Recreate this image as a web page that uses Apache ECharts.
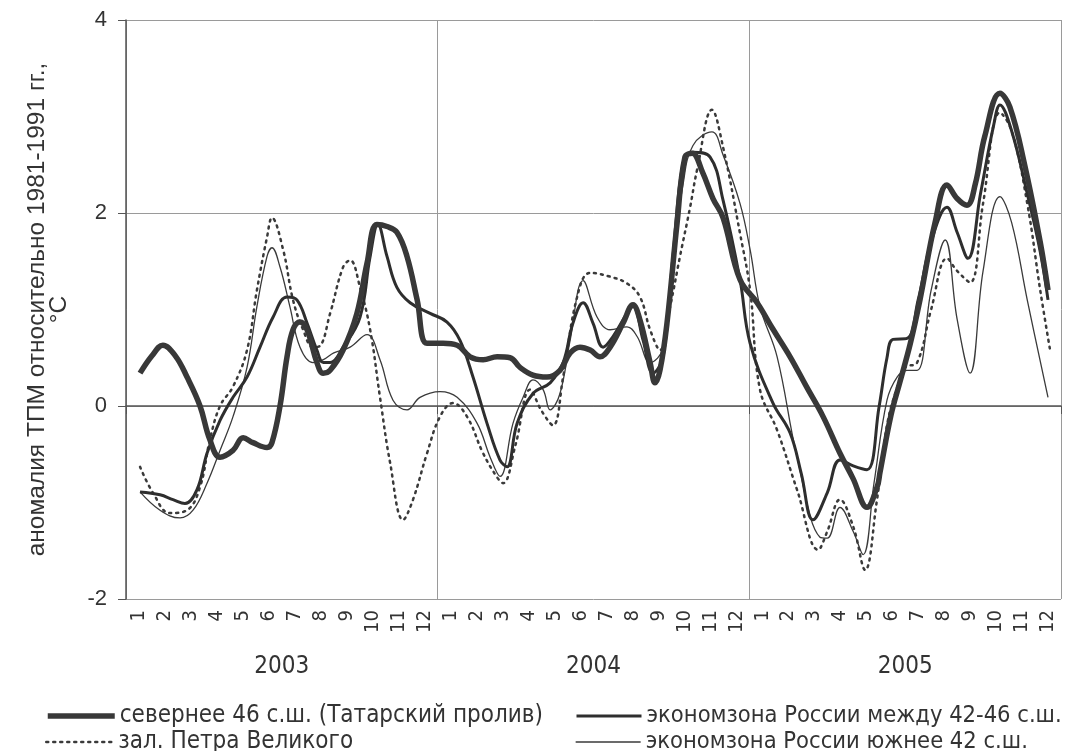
<!DOCTYPE html>
<html>
<head>
<meta charset="utf-8">
<script src="https://cdn.jsdelivr.net/npm/echarts@6/dist/echarts.min.js"></script>
<style>
  html, body { margin: 0; padding: 0; background: #ffffff; }
  #chart { width: 1068px; height: 751px; }
</style>
</head>
<body>
<div id="chart"></div>
<script>
// Month tick labels, three years of monthly categories
const monthLabels = ['1','2','3','4','5','6','7','8','9','10','11','12',
                     '1','2','3','4','5','6','7','8','9','10','11','12',
                     '1','2','3','4','5','6','7','8','9','10','11','12'];
const yearLabels = ['2003', '2004', '2005'];

const seriesNames = [
  'севернее 46 с.ш. (Татарский пролив)',
  'экономзона России между 42-46 с.ш.',
  'зал. Петра Великого',
  'экономзона России южнее 42 с.ш.'
];

// SST anomaly, °C; x = months elapsed since 1 Jan 2003
const tatarStrait = [
  [0.54,0.34],[1.0,0.52],[1.42,0.63],[1.9,0.52],[2.35,0.30],[2.85,0.0],[3.23,-0.35],[3.62,-0.53],
  [4.12,-0.46],[4.51,-0.33],[4.89,-0.38],[5.43,-0.43],[5.62,-0.38],[5.93,0.0],[6.20,0.51],[6.43,0.79],
  [6.70,0.87],[6.97,0.79],[7.35,0.45],[7.59,0.34],[7.86,0.37],[8.36,0.58],[8.89,0.96],[9.28,1.48],
  [9.66,1.88],[10.05,1.86],[10.43,1.80],[10.82,1.55],[11.21,1.10],[11.59,0.65],[12.21,0.65],[12.75,0.63],
  [13.25,0.51],[13.75,0.48],[14.29,0.51],[14.79,0.50],[15.17,0.40],[15.67,0.32],[16.21,0.30],[16.71,0.37],
  [17.10,0.55],[17.48,0.61],[17.87,0.58],[18.25,0.51],[18.64,0.61],[19.14,0.86],[19.52,1.05],[19.79,0.89],
  [20.18,0.45],[20.37,0.24],[20.56,0.37],[20.83,0.86],[21.22,1.90],[21.52,2.58],[21.80,2.62],[22.20,2.42],
  [22.60,2.15],[22.99,1.95],[23.64,1.31],[24.30,1.07],[24.90,0.80],[25.57,0.51],[26.20,0.20],[26.84,-0.11],
  [27.49,-0.49],[27.99,-0.75],[28.53,-1.05],[28.92,-0.84],[29.03,-0.69],[29.45,-0.10],[29.80,0.25],[30.20,0.65],
  [30.57,1.10],[31.15,1.90],[31.61,2.29],[32.00,2.15],[32.38,2.08],[32.70,2.30],[33.07,2.80],[33.65,3.24],
  [34.03,3.10],[34.60,2.50],[35.20,1.70],[35.50,1.20]
];

const zone42to46 = [
  [0.54,-0.89],[1.31,-0.92],[1.81,-0.97],[2.27,-1.01],[2.73,-0.87],[3.12,-0.49],[3.62,-0.15],[4.12,0.09],
  [4.66,0.30],[5.16,0.61],[5.66,0.92],[6.20,1.13],[6.58,1.10],[6.97,0.86],[7.35,0.58],[7.60,0.45],
  [7.86,0.45],[8.36,0.61],[9.01,0.92],[9.40,1.55],[9.70,1.88],[10.05,1.55],[10.43,1.23],[10.94,1.07],
  [11.71,0.96],[12.36,0.87],[12.86,0.68],[13.36,0.30],[13.90,-0.18],[14.40,-0.56],[14.67,-0.63],[15.06,-0.18],
  [15.67,0.13],[16.33,0.24],[16.83,0.45],[17.21,0.86],[17.60,1.07],[17.98,0.86],[18.37,0.61],[18.75,0.72],
  [19.29,0.96],[19.52,1.03],[19.91,0.68],[20.29,0.34],[20.68,0.51],[21.06,1.55],[21.45,2.52],[21.83,2.63],
  [22.49,2.58],[22.99,2.13],[23.64,1.31],[24.03,0.65],[24.91,0.03],[25.57,-0.28],[26.00,-0.70],[26.45,-1.18],
  [27.00,-0.90],[27.49,-0.56],[28.00,-0.62],[28.53,-0.66],[29.00,0.0],[29.30,0.50],[29.53,0.69],[30.07,0.70],
  [30.50,1.10],[31.00,1.70],[31.61,2.06],[32.00,1.80],[32.42,1.53],[32.90,2.20],[33.40,2.90],[33.65,3.12],
  [34.10,2.85],[34.70,2.20],[35.20,1.60],[35.50,1.10]
];

const peterBay = [
  [0.54,-0.63],[1.04,-0.90],[1.69,-1.11],[2.35,-1.08],[2.85,-0.84],[3.23,-0.35],[3.62,0.0],[4.12,0.20],
  [4.66,0.58],[5.04,1.20],[5.43,1.75],[5.62,1.95],[6.05,1.62],[6.43,1.10],[6.82,0.79],[7.20,0.61],
  [7.45,0.62],[7.86,0.96],[8.36,1.44],[8.63,1.51],[9.01,1.23],[9.40,0.79],[9.78,0.09],[10.17,-0.59],
  [10.67,-1.18],[11.05,-0.97],[11.59,-0.49],[12.09,-0.11],[12.59,0.03],[13.13,-0.11],[13.75,-0.49],[14.29,-0.74],
  [14.52,-0.80],[15.00,-0.40],[15.56,0.17],[16.00,-0.05],[16.44,-0.20],[16.83,0.30],[17.37,1.13],[17.87,1.38],
  [18.64,1.34],[19.29,1.27],[19.79,1.13],[20.18,0.79],[20.56,0.58],[20.95,1.03],[21.33,1.55],[21.72,2.06],
  [21.99,2.45],[22.56,3.07],[22.99,2.68],[23.64,1.79],[24.03,1.20],[24.41,0.17],[25.07,-0.25],[25.84,-0.87],
  [26.65,-1.49],[27.00,-1.30],[27.49,-0.97],[28.00,-1.25],[28.46,-1.70],[28.90,-1.00],[29.30,-0.20],[29.70,0.20],
  [30.00,0.40],[30.46,0.45],[31.00,1.00],[31.61,1.53],[32.00,1.40],[32.50,1.28],[33.00,2.10],[33.65,3.04],
  [34.10,2.85],[34.70,2.10],[35.20,1.20],[35.58,0.58]
];

const zoneSouth42 = [
  [0.54,-0.89],[1.31,-1.08],[2.08,-1.16],[2.58,-1.08],[3.12,-0.80],[3.62,-0.46],[4.12,-0.11],[4.66,0.40],
  [5.04,1.03],[5.43,1.55],[5.62,1.64],[5.93,1.44],[6.31,1.03],[6.70,0.61],[7.20,0.45],[7.60,0.48],
  [8.00,0.55],[8.63,0.61],[9.28,0.74],[9.78,0.48],[10.28,0.06],[10.82,-0.04],[11.32,0.09],[12.09,0.15],
  [12.75,0.09],[13.52,-0.18],[14.02,-0.53],[14.40,-0.73],[14.90,-0.18],[15.29,0.09],[15.67,0.27],[16.06,0.17],
  [16.33,-0.04],[16.71,0.13],[17.10,0.68],[17.60,1.30],[18.14,0.92],[18.64,0.79],[19.29,0.82],[19.68,0.72],
  [20.18,0.45],[20.68,0.60],[21.06,1.50],[21.45,2.30],[21.83,2.70],[22.56,2.84],[22.99,2.60],[23.64,2.10],
  [24.03,1.62],[24.41,1.03],[25.07,0.51],[25.84,-0.53],[26.72,-1.36],[27.00,-1.37],[27.49,-1.05],[28.00,-1.30],
  [28.38,-1.54],[28.80,-0.80],[29.30,0.06],[29.69,0.30],[30.07,0.37],[30.46,0.37],[31.00,1.20],[31.54,1.72],
  [32.00,0.90],[32.50,0.34],[33.00,1.40],[33.65,2.17],[34.10,1.90],[34.70,1.10],[35.50,0.09]
];

const narrowFont = "'Liberation Sans Narrow', 'DejaVu Sans Condensed', 'Arial Narrow', 'Liberation Sans', sans-serif";
const regularFont = "'Liberation Sans', Arial, sans-serif";
const inkColor = '#333333';

// line styles shared by each series and its legend sample
const styleTatar = { color: '#383838', width: 5.5 };
const styleZone4246 = { color: '#2e2e2e', width: 3 };
const stylePeter = { color: '#3a3a3a', width: 2.5, type: [2, 5], cap: 'round' };
const styleSouth42 = { color: '#3a3a3a', width: 1.3 };

const chart = echarts.init(document.getElementById('chart'), null, { renderer: 'canvas' });

function lineSeries(name, data, lineStyle, z) {
  return {
    name: name,
    type: 'line',
    xAxisIndex: 1,
    data: data,
    smooth: 0.4,
    symbol: 'none',
    showSymbol: false,
    z: z,
    lineStyle: lineStyle,
    itemStyle: { color: lineStyle.color },
    emphasis: { disabled: true }
  };
}

// one legend block per entry, laid out as two columns of two rows
function legendEntry(name, left, top, iconWidth, lineStyle, fontSize) {
  return {
    left: left, top: top, orient: 'horizontal', padding: 0,
    itemWidth: iconWidth, itemHeight: 14,
    data: [name],
    itemStyle: { opacity: 0 },
    lineStyle: Object.assign({}, lineStyle),
    textStyle: { fontSize: fontSize, fontFamily: narrowFont, color: inkColor, lineHeight: 24 },
    selectedMode: false
  };
}

chart.setOption({
  animation: false,
  backgroundColor: '#ffffff',
  grid: { left: 126, right: 7, top: 20, bottom: 152, containLabel: false },
  xAxis: [
    {
      // month categories along the bottom
      type: 'category',
      position: 'bottom',
      data: monthLabels,
      boundaryGap: true,
      axisLine: { show: true, lineStyle: { color: '#555555', width: 1.5 } },
      axisTick: { show: true, length: 8, interval: function (i) { return i % 12 === 0; }, lineStyle: { color: '#555555' } },
      axisLabel: { interval: 0, rotate: 90, fontSize: 20, fontFamily: narrowFont, color: inkColor, margin: 11 },
      splitLine: { show: false }
    },
    {
      // continuous month scale used by the series; draws the year separators
      type: 'value',
      position: 'top',
      min: 0, max: 36, interval: 12,
      axisLine: { show: false },
      axisTick: { show: false },
      axisLabel: { show: false },
      splitLine: { show: true, lineStyle: { color: '#9a9a9a', width: 1 } }
    },
    {
      // year captions centred under each year
      type: 'value',
      position: 'bottom',
      offset: 48,
      min: 0, max: 36, interval: 6,
      axisLine: { show: false },
      axisTick: { show: false },
      splitLine: { show: false },
      axisLabel: {
        fontSize: 24, fontFamily: narrowFont, color: inkColor, margin: 8,
        formatter: function (v) {
          return (v - 6) % 12 === 0 && v > 0 ? yearLabels[(v - 6) / 12] : '';
        }
      }
    }
  ],
  yAxis: {
    type: 'value',
    min: -2, max: 4, interval: 2,
    name: 'аномалия ТПМ относительно 1981-1991 гг.,\n°C',
    nameLocation: 'middle',
    nameGap: 56,
    nameRotate: 90,
    nameTextStyle: { fontSize: 24.5, fontFamily: regularFont, color: inkColor, lineHeight: 22, align: 'center' },
    axisLine: { show: true, lineStyle: { color: '#555555', width: 1.5 } },
    axisTick: { show: true, length: 8, lineStyle: { color: '#555555' } },
    axisLabel: { fontSize: 22, fontFamily: regularFont, color: inkColor, margin: 19 },
    splitLine: { show: true, lineStyle: { color: '#9a9a9a', width: 1 } }
  },
  legend: [
    legendEntry(seriesNames[0], 45, 704, 67, styleTatar, 24),
    legendEntry(seriesNames[2], 45, 730, 67, stylePeter, 24),
    legendEntry(seriesNames[1], 575, 704, 65, styleZone4246, 23.5),
    legendEntry(seriesNames[3], 575, 730, 65, styleSouth42, 23.5)
  ],
  series: [
    lineSeries(seriesNames[3], zoneSouth42, styleSouth42, 2),
    lineSeries(seriesNames[2], peterBay, stylePeter, 3),
    lineSeries(seriesNames[1], zone42to46, styleZone4246, 4),
    lineSeries(seriesNames[0], tatarStrait, styleTatar, 5)
  ]
});
</script>
</body>
</html>
